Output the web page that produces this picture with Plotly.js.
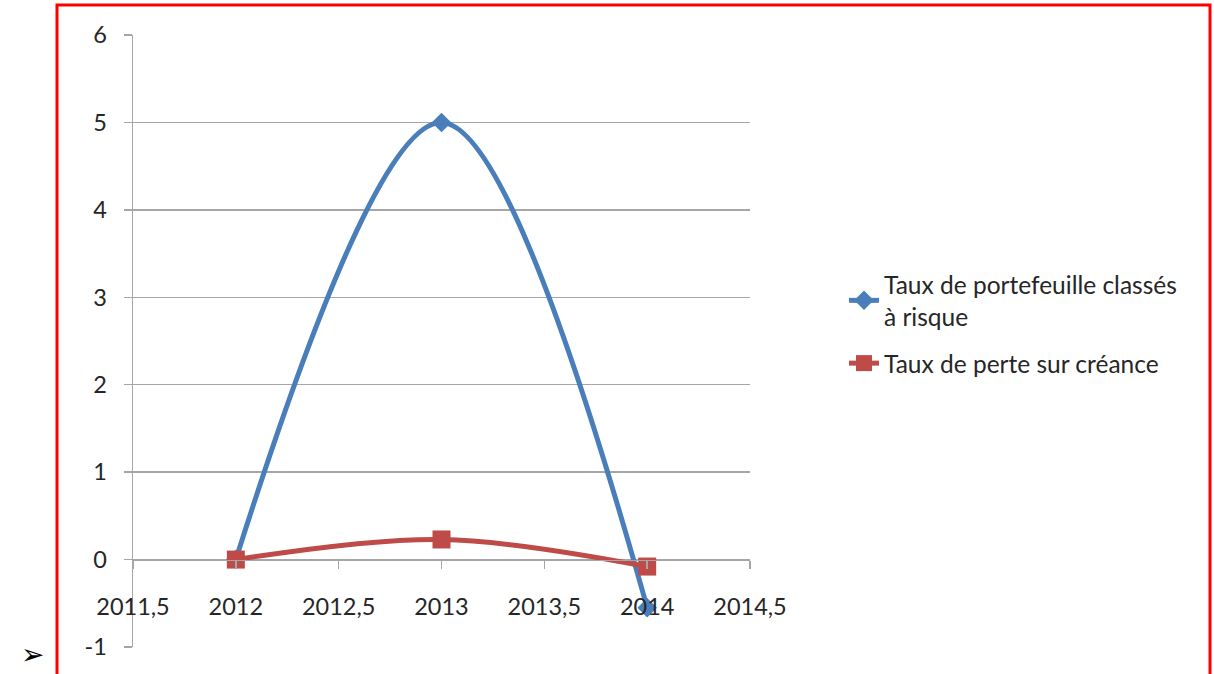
<!DOCTYPE html>
<html>
<head>
<meta charset="utf-8">
<script src="https://cdn.plot.ly/plotly-3.0.1.min.js"></script>
<style>
html,body{margin:0;padding:0;background:#fff;}
#chart{width:1214px;height:674px;}
</style>
</head>
<body>
<div id="chart"></div>
<script>
// Data
const years = [2012, 2013, 2014];
const tauxRisque = [0, 5, -0.55];
const tauxPerte = [0, 0.23, -0.08];
const seriesNames = ["Taux de portefeuille classés<br>à risque", "Taux de perte sur créance"];
const xTickVals = [2011.5, 2012, 2012.5, 2013, 2013.5, 2014, 2014.5];
const xTickText = ["2011,5", "2012", "2012,5", "2013", "2013,5", "2014", "2014,5"];
const yTickVals = [-1, 0, 1, 2, 3, 4, 5, 6];
const yTickText = ["-1", "0", "1", "2", "3", "4", "5", "6"];

const FONT = "Lato, 'Liberation Sans', sans-serif";
const GRID = "#a6a6a6";
const TXT = "#262626";

const traces = [
  {
    x: years, y: tauxRisque, name: seriesNames[0], type: "scatter", mode: "lines+markers",
    legendgroup: "g1",
    line: {color: "#4A7EBB", width: 5, shape: "spline", smoothing: 1},
    marker: {symbol: "diamond", size: 15, color: "#4A7EBB"}
  },
  {
    x: years, y: tauxPerte, name: seriesNames[1], type: "scatter", mode: "lines+markers",
    legendgroup: "g2",
    line: {color: "#BE4B48", width: 5, shape: "spline", smoothing: 1},
    marker: {symbol: "square", size: 18, color: "#BE4B48"}
  }
];

const L = 133, R = 750, T = 35, B = 647, W = 1214, H = 674;
const px = v => (v - L) / (R - L);
const py = v => (B - v) / (B - T);

const layout = {
  width: W, height: H,
  margin: {l: L, r: W - R, t: T, b: H - B, pad: 0},
  paper_bgcolor: "#fff", plot_bgcolor: "#fff",
  font: {family: FONT, size: 24, color: TXT},
  showlegend: true,
  legend: {
    x: px(844), y: py(262), xanchor: "left", yanchor: "top",
    font: {family: FONT, size: 24.5, color: TXT},
    bgcolor: "rgba(0,0,0,0)", tracegroupgap: 12
  },
  xaxis: {
    range: [2011.5, 2014.5], tickvals: xTickVals, ticktext: xTickText,
    anchor: "free", position: 1 / 7,
    showgrid: false, zeroline: false,
    showline: true, linecolor: GRID, linewidth: 1.5,
    ticks: "outside", ticklen: 8, tickcolor: GRID, tickwidth: 1.5,
    ticklabelstandoff: 18,
    tickfont: {family: FONT, size: 23.5, color: TXT},
    fixedrange: true
  },
  yaxis: {
    range: [-1, 6], tickvals: yTickVals, ticktext: yTickText,
    showgrid: true, gridcolor: GRID, gridwidth: 1.5, zeroline: false,
    showline: true, linecolor: GRID, linewidth: 1.5,
    ticks: "outside", ticklen: 8, tickcolor: GRID, tickwidth: 1.5,
    ticklabelstandoff: 12,
    tickfont: {family: FONT, size: 23.5, color: TXT},
    fixedrange: true
  },
  shapes: [{
    type: "rect", xref: "paper", yref: "paper",
    x0: px(57), x1: px(1210), y0: py(710), y1: py(5),
    line: {color: "#ff0000", width: 3}, fillcolor: "rgba(0,0,0,0)", layer: "below"
  }],
  annotations: [{
    xref: "paper", yref: "paper", x: px(19), y: py(673), yanchor: "bottom",
    text: "➢", showarrow: false, font: {family: "DejaVu Sans", size: 28, color: "#000"}
  }]
};

Plotly.newPlot("chart", traces, layout, {displayModeBar: false, staticPlot: true});
</script>
</body>
</html>
